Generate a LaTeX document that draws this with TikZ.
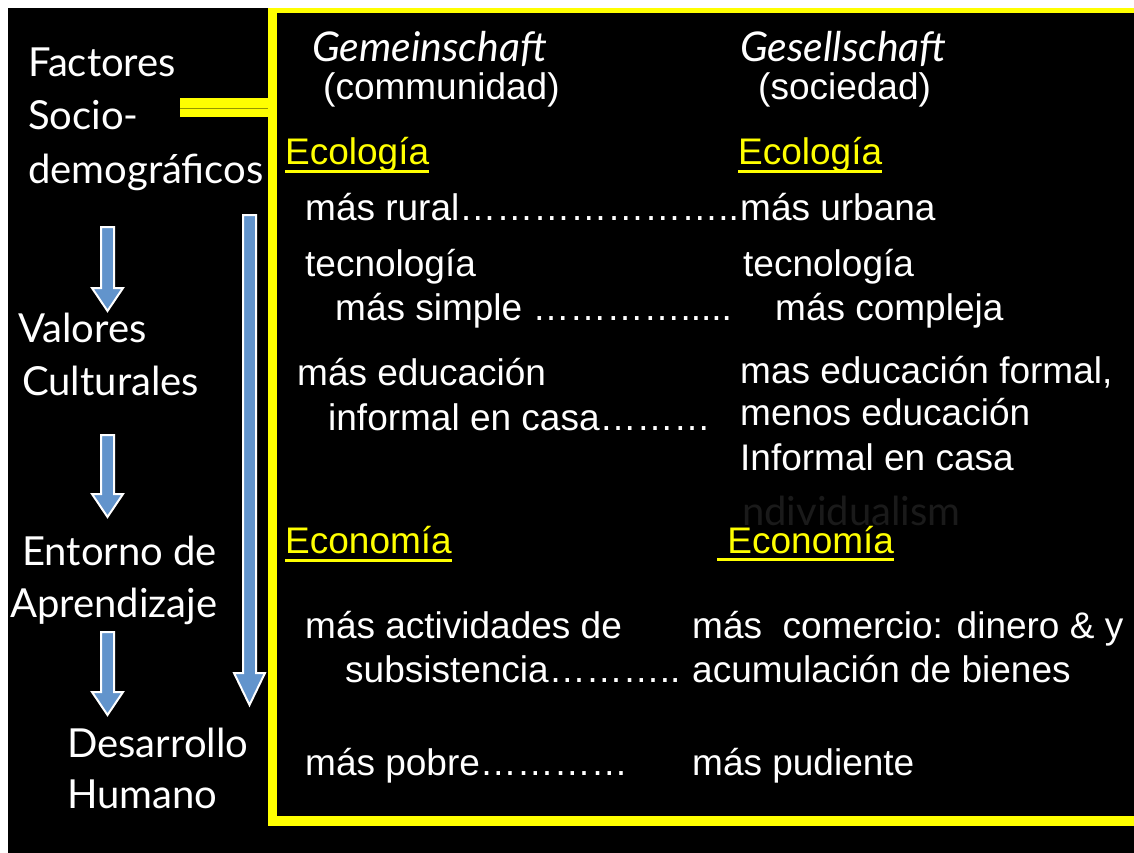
\documentclass[tikz,border=0pt]{standalone}
\usepackage{fontspec}
\setmainfont{Liberation Sans}
\newfontfamily\gill{Lato}
\usetikzlibrary{calc}
\definecolor{yel}{RGB}{255,255,0}
\definecolor{olive}{RGB}{150,150,0}
\definecolor{arrowblue}{RGB}{98,148,204}
\definecolor{ghost}{RGB}{26,26,26}
\newcommand{\el}{…}
\tikzset{
  tx/.style={anchor=base west, inner sep=0, text=white, font=\fontsize{37}{44}\selectfont},
  lt/.style={anchor=base west, inner sep=0, text=white, font=\gill\fontsize{40}{48}\selectfont},
  hd/.style={anchor=base west, inner sep=0, text=white, font=\gill\itshape\fontsize{41}{48}\selectfont},
  yt/.style={anchor=base west, inner sep=0, text=yel, font=\fontsize{37}{44}\selectfont},
  uline/.style={draw=yel, line width=3pt},
  framel/.style={draw=yel, line width=9pt},
  barrow/.style={fill=arrowblue, draw=white, line width=2pt, line join=miter},
}
\newcommand{\bluearrow}[4]{% cx, top, headstart, tip
  \draw[barrow] (#1-6.5,#2) -- (#1+6.5,#2) -- (#1+6.5,#3) -- (#1+15.5,#3) -- (#1,#4)
    -- (#1-15.5,#3) -- (#1-6.5,#3) -- cycle;}
\begin{document}
\begin{tikzpicture}[x=1pt,y=-1pt]
\useasboundingbox (0,0) rectangle (1134,853);
\fill[white] (0,0) rectangle (1134,853);
\fill[black] (8,8) rectangle (1134,853);
% frame
\draw[framel] (272.5,8) -- (272.5,826);
\draw[draw=yel, line width=5pt] (268,10.5) -- (1134,10.5);
\draw[draw=yel, line width=10pt] (268,821) -- (1134,821);
% connector bar
\fill[yel] (180,98) rectangle (268,117);
\draw[olive, line width=0.8pt] (180,108) -- (268,108);
% left column
\node[lt] (f1) at (28,77) {Factores};
\node[lt] (f2) at (28,130) {Socio-};
\node[lt] (f3) at (28,183) {demográficos};
\node[lt] (v1) at (18,342) {Valores};
\node[lt] (v2) at (22,395) {Culturales};
\node[lt] (e1) at (22,565) {Entorno de};
\node[lt] (e2) at (10,617) {Aprendizaje};
\node[lt] (d1) at (67,757) {Desarrollo};
\node[lt] (d2) at (67,808) {Humano};
% arrows
\bluearrow{107.5}{227}{288}{311}
\bluearrow{107.5}{435}{494}{517}
\bluearrow{107.5}{632}{692}{715}
\bluearrow{249.5}{215}{673}{705}
% headers
\node[hd] (g1) at (312,62) {Gemeinschaft};
\node[tx] (g2) at (323,100) {(communidad)};
\node[hd] (s1) at (740,62) {Gesellschaft};
\node[tx] (s2) at (758,100) {(sociedad)};
% ecologia
\node[yt] (ec1) at (285,165) {Ecología};
\draw[uline] ($(ec1.base west)+(0,7)$) -- ($(ec1.base east)+(0,7)$);
\node[yt] (ec2) at (738,165) {Ecología};
\draw[uline] ($(ec2.base west)+(0,7)$) -- ($(ec2.base east)+(0,7)$);
\node[tx] (a1) at (305,220) {más rural\el\el\el\el\el\el\el..};
\node[tx] (a2) at (740,220) {más urbana};
\node[tx] (b1) at (305,276) {tecnología};
\node[tx] (b2) at (335,320) {más simple \el\el\el\el.....};
\node[tx] (b3) at (743,276) {tecnología};
\node[tx] (b4) at (775,320) {más compleja};
\node[tx] (c1) at (297,385) {más educación};
\node[tx] (c2) at (328,430) {informal en casa\el\el\el};
\node[tx] (c3) at (740,383) {mas educación formal,};
\node[tx] (c4) at (740,425) {menos educación};
\node[tx] (c5) at (740,470) {Informal en casa};
\node[anchor=base west, inner sep=0, text=ghost, font=\gill\fontsize{40}{48}\selectfont] (ind) at (742,525) {ndividualism};
% economia
\node[yt] (en1) at (285,553) {Economía};
\draw[uline] ($(en1.base west)+(0,7)$) -- ($(en1.base east)+(0,7)$);
\node[yt] (en2) at (717,553) {\ Economía};
\draw[uline] ($(en2.base west)+(0,6)$) -- ($(en2.base east)+(0,6)$);
\node[tx] (h1) at (305,638) {más actividades de};
\node[tx] (h2) at (345,682) {subsistencia\el\el\el..};
\node[tx] (h3) at (692,638) {más\ \ comercio: dinero \& y};
\node[tx] (h4) at (692,682) {acumulación de bienes};
\node[tx] (p1) at (305,775) {más pobre\el\el\el\el};
\node[tx] (p2) at (692,775) {más pudiente};
\end{tikzpicture}
\end{document}
